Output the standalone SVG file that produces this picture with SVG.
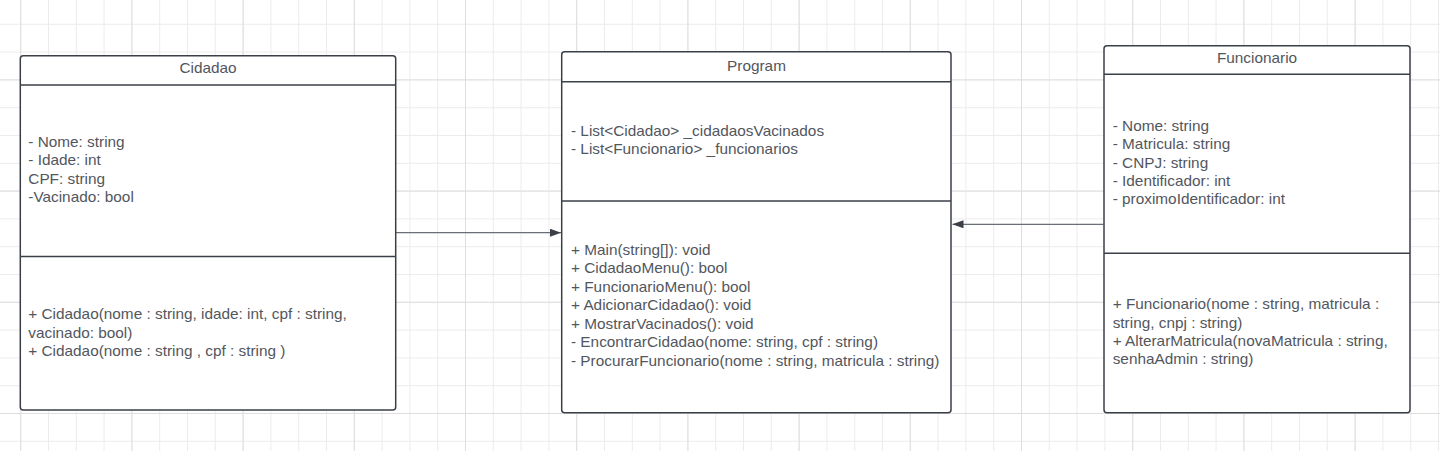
<svg xmlns="http://www.w3.org/2000/svg" width="1440" height="451" viewBox="0 0 1440 451">
<defs>
<style>
.box{fill:#ffffff;stroke:#3b4048;stroke-width:1.5}
.div{stroke:#3b4048;stroke-width:1.5}
.t{font-family:"Liberation Sans",Arial,sans-serif;font-size:15.35px;fill:#52565d}
.c{text-anchor:middle}
.conn{stroke:#6a6e75;stroke-width:1.3;fill:none}
</style>
<pattern id="gridS" x="20.2" y="23.8" width="27.8" height="27.8" patternUnits="userSpaceOnUse">
<path d="M0.5 0V27.8M0 0.5H27.8" stroke="#ececec" stroke-width="1" fill="none"/>
</pattern>
<pattern id="gridL" x="20.2" y="23.8" width="111.2" height="111.2" patternUnits="userSpaceOnUse">
<path d="M0.5 0V111.2M0 56.1H111.2" stroke="#dedede" stroke-width="1" fill="none"/>
</pattern>
<marker id="arr" viewBox="0 0 11 8" refX="11" refY="4" markerWidth="11" markerHeight="8" markerUnits="userSpaceOnUse" orient="auto">
<path d="M0 0L11 4L0 8Z" fill="#3b4048"/>
</marker>
</defs>
<rect width="1440" height="451" fill="#ffffff"/>
<rect width="1440" height="451" fill="url(#gridS)"/>
<rect width="1440" height="451" fill="url(#gridL)"/>

<g id="connectors">
<line class="conn" x1="396" y1="232.7" x2="561" y2="232.7" marker-end="url(#arr)"/>
<line class="conn" x1="1103.5" y1="224.3" x2="952.5" y2="224.3" marker-end="url(#arr)"/>
</g>

<g id="cidadao">
<rect class="box" x="20.3" y="55.7" width="375.4" height="354.3" rx="3"/>
<line class="div" x1="20.3" y1="85" x2="395.7" y2="85"/>
<line class="div" x1="20.3" y1="256.5" x2="395.7" y2="256.5"/>
<text class="t c" x="208" y="73.3">Cidadao</text>
<text class="t" x="28.3" y="146.7">- Nome: string</text>
<text class="t" x="28.3" y="165">- Idade: int</text>
<text class="t" x="28.3" y="183.5">CPF: string</text>
<text class="t" x="28.3" y="202">-Vacinado: bool</text>
<text class="t" x="28.3" y="319.3">+ Cidadao(nome : string, idade: int, cpf : string,</text>
<text class="t" x="28.3" y="337.7">vacinado: bool)</text>
<text class="t" x="28.3" y="356.3">+ Cidadao(nome : string , cpf : string )</text>
</g>

<g id="program">
<rect class="box" x="561.7" y="51.7" width="389.3" height="361" rx="3"/>
<line class="div" x1="561.7" y1="81.7" x2="951" y2="81.7"/>
<line class="div" x1="561.7" y1="201" x2="951" y2="201"/>
<text class="t c" x="756.5" y="71">Program</text>
<text class="t" x="571" y="135.7">- List&lt;Cidadao&gt; _cidadaosVacinados</text>
<text class="t" x="571" y="154.3">- List&lt;Funcionario&gt; _funcionarios</text>
<text class="t" x="571" y="255">+ Main(string[]): void</text>
<text class="t" x="571" y="273.4">+ CidadaoMenu(): bool</text>
<text class="t" x="571" y="291.8">+ FuncionarioMenu(): bool</text>
<text class="t" x="571" y="310.2">+ AdicionarCidadao(): void</text>
<text class="t" x="571" y="328.6">+ MostrarVacinados(): void</text>
<text class="t" x="571" y="347">- EncontrarCidadao(nome: string, cpf : string)</text>
<text class="t" x="571" y="365.6">- ProcurarFuncionario(nome : string, matricula : string)</text>
</g>

<g id="funcionario">
<rect class="box" x="1104" y="45.7" width="306" height="367" rx="3"/>
<line class="div" x1="1104" y1="74.3" x2="1410" y2="74.3"/>
<line class="div" x1="1104" y1="253.3" x2="1410" y2="253.3"/>
<text class="t c" x="1257" y="63.3">Funcionario</text>
<text class="t" x="1112.7" y="130.7">- Nome: string</text>
<text class="t" x="1112.7" y="149.2">- Matricula: string</text>
<text class="t" x="1112.7" y="167.6">- CNPJ: string</text>
<text class="t" x="1112.7" y="186">- Identificador: int</text>
<text class="t" x="1112.7" y="204.4">- proximoIdentificador: int</text>
<text class="t" x="1112.7" y="309.3">+ Funcionario(nome : string, matricula :</text>
<text class="t" x="1112.7" y="327.5">string, cnpj : string)</text>
<text class="t" x="1112.7" y="346">+ AlterarMatricula(novaMatricula : string,</text>
<text class="t" x="1112.7" y="364.3">senhaAdmin : string)</text>
</g>
</svg>
